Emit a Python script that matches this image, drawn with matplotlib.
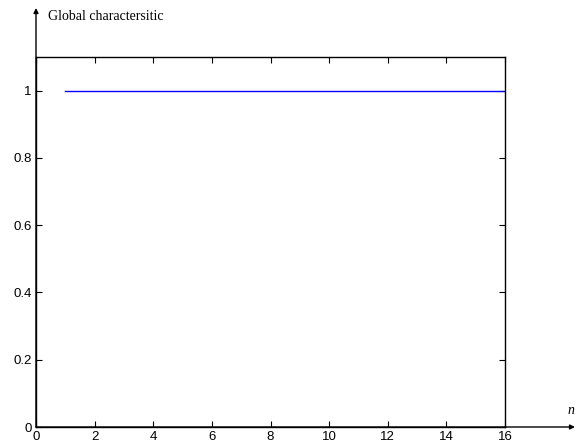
import numpy as np
import matplotlib
matplotlib.use('Agg')
import matplotlib.pyplot as plt

# data
n_values = np.arange(1, 17)
global_char = [1.0] * 16

x_ticks = [0, 2, 4, 6, 8, 10, 12, 14, 16]
y_ticks = [0, 0.2, 0.4, 0.6, 0.8, 1.0]
y_tick_labels = ['0', '0.2', '0.4', '0.6', '0.8', '1']

fig = plt.figure(figsize=(5.76, 4.48), dpi=100)
ax = fig.add_axes([36/576, 21/448, 469/576, 370/448])

ax.plot(n_values, global_char, color='#0000ff', linewidth=1.0)

ax.set_xlim(0, 16)
ax.set_ylim(0, 1.1)
ax.set_xticks(x_ticks)
ax.set_yticks(y_ticks)
ax.set_yticklabels(y_tick_labels)
ax.tick_params(direction='in', top=True, right=True, length=4, width=0.8,
               labelsize=9.5, pad=3)
for lab in ax.get_xticklabels() + ax.get_yticklabels():
    lab.set_family('Liberation Sans')
for sp in ax.spines.values():
    sp.set_linewidth(1.0)

# axis arrows extending past the box
x0, y0 = 36/576, 21/448
ax.annotate('', xy=(x0, 1 - 8/448), xytext=(x0, y0), xycoords='figure fraction',
            arrowprops=dict(arrowstyle='-|>', color='black', lw=1.0,
                            mutation_scale=7, shrinkA=0, shrinkB=0))
ax.annotate('', xy=(575/576, y0), xytext=(x0, y0), xycoords='figure fraction',
            arrowprops=dict(arrowstyle='-|>', color='black', lw=1.0,
                            mutation_scale=7, shrinkA=0, shrinkB=0))

fig.text(48/576, 1 - 16/448, 'Global charactersitic', family='Liberation Serif',
         fontsize=10, va='center', ha='left')
fig.text(574/576, 1 - 410/448, 'n', family='Liberation Serif', style='italic',
         fontsize=10, va='center', ha='right')

fig.savefig('out.png', dpi=100)
